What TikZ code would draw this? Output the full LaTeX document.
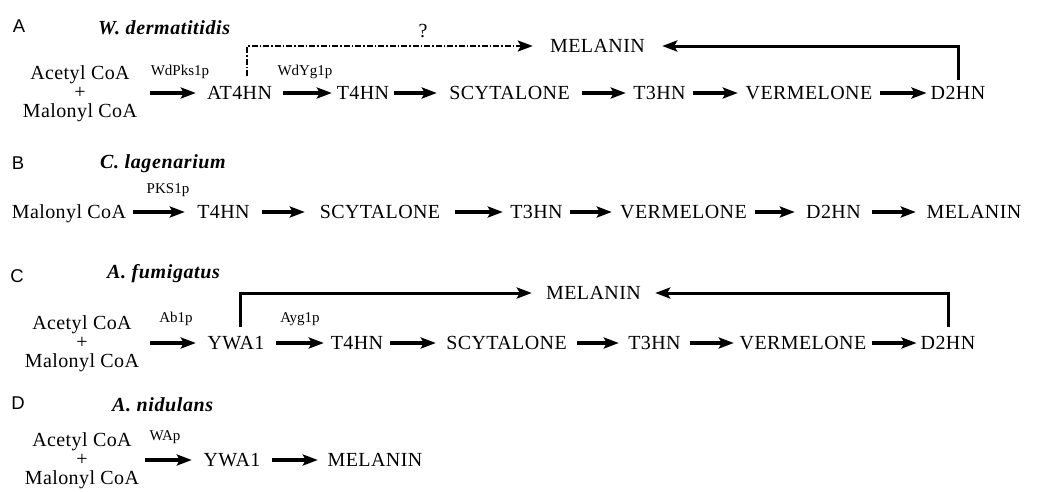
\documentclass[tikz,border=0pt]{standalone}
\usepackage{fontspec}
\setmainfont{Liberation Serif}
\newfontfamily\lettersf{Liberation Sans}
\usetikzlibrary{arrows.meta}
\begin{document}
\begin{tikzpicture}[x=1pt,y=-1pt,
  chem/.style={inner sep=0pt, font=\addfontfeatures{LetterSpace=2}\fontsize{20}{22}\selectfont, text height=13.5pt, text depth=0pt},
  src/.style={inner sep=0pt, align=center, font=\addfontfeatures{LetterSpace=2}\fontsize{20}{19}\selectfont},
  enz/.style={inner sep=0pt, font=\fontsize{15}{16}\selectfont},
  panel/.style={inner sep=0pt, font=\lettersf\fontsize{18.5}{20}\selectfont},
  species/.style={inner sep=0pt, anchor=west, font=\addfontfeatures{LetterSpace=3}\fontsize{20}{22}\selectfont\bfseries\itshape},
  rxn/.style={line width=3.3pt, -{Stealth[length=15pt,width=11pt,inset=3pt]}, shorten <=4pt, shorten >=4pt},
  fb/.style={line width=3pt, -{Stealth[length=15pt,width=11pt,inset=3pt]}},
  fbdash/.style={line width=2.4pt, -{Stealth[length=15pt,width=11pt,inset=3pt]}, dash pattern=on 6pt off 2pt on 1.5pt off 2pt},
]
\fill[white] (0,0) rectangle (1037,491);
\useasboundingbox (0,0) rectangle (1037,491);

% ---------------- A ----------------
\node[panel] (pA) at (19,26) {A};
\node[species] (spA) at (98,28) {W. dermatitidis};
\node[chem] (qA) at (423,31) {?};
\node[src, minimum width=132] (sA) at (80,94) {Acetyl CoA\\+\\Malonyl CoA};
\node[enz] (eA1) at (180,72) {WdPks1p};
\node[enz] (eA2) at (305,72) {WdYg1p};
\node[chem, minimum width=79] (at4hnA) at (239.5,93) {AT4HN};
\node[chem, minimum width=54] (t4hnA) at (363,93) {T4HN};
\node[chem, minimum width=137] (scyA) at (509.5,93) {SCYTALONE};
\node[chem, minimum width=59] (t3hnA) at (659.5,93) {T3HN};
\node[chem, minimum width=134] (verA) at (809,93) {VERMELONE};
\node[chem, minimum width=50] (d2hnA) at (958,93) {D2HN};
\node[chem, minimum width=121] (melA) at (597.5,46) {MELANIN};
\coordinate (dA) at (247,76);

\draw[rxn] (sA.east |- at4hnA.west) -- (at4hnA.west);
\draw[rxn] (at4hnA.east) -- (t4hnA.west);
\draw[rxn] (t4hnA.east) -- (scyA.west);
\draw[rxn] (scyA.east) -- (t3hnA.west);
\draw[rxn] (t3hnA.east) -- (verA.west);
\draw[rxn] (verA.east) -- (d2hnA.west);
\draw[fb, shorten <=6pt, shorten >=4pt] (d2hnA.north) |- (melA.east);
\draw[fbdash, shorten >=4pt] (dA) |- (melA.west);

% ---------------- B ----------------
\node[panel] (pB) at (18,163) {B};
\node[species] (spB) at (100,164) {C. lagenarium};
\node[enz] (eB1) at (168,190) {PKS1p};
\node[chem, minimum width=110] (sB) at (69,212) {Malonyl CoA};
\node[chem, minimum width=69] (t4hnB) at (223.5,212) {T4HN};
\node[chem, minimum width=142] (scyB) at (380,212) {SCYTALONE};
\node[chem, minimum width=59] (t3hnB) at (536.5,212) {T3HN};
\node[chem, minimum width=135] (verB) at (683.5,212) {VERMELONE};
\node[chem, minimum width=69] (d2hnB) at (833.5,212) {D2HN};
\node[chem, minimum width=108] (melB) at (974,212) {MELANIN};

\draw[rxn, shorten <=7pt] (sB.east) -- (t4hnB.west);
\draw[rxn] (t4hnB.east) -- (scyB.west);
\draw[rxn] (scyB.east) -- (t3hnB.west);
\draw[rxn] (t3hnB.east) -- (verB.west);
\draw[rxn] (verB.east) -- (d2hnB.west);
\draw[rxn] (d2hnB.east) -- (melB.west);

% ---------------- C ----------------
\node[panel] (pC) at (17,276) {C};
\node[species] (spC) at (107,274) {A. fumigatus};
\node[src, minimum width=128] (sC) at (82,344) {Acetyl CoA\\+\\Malonyl CoA};
\node[enz] (eC1) at (176,319) {Ab1p};
\node[enz] (eC2) at (300,319) {Ayg1p};
\node[chem, minimum width=72] (ywaC) at (236,343) {YWA1};
\node[chem, minimum width=58] (t4hnC) at (357,343) {T4HN};
\node[chem, minimum width=133] (scyC) at (506.5,343) {SCYTALONE};
\node[chem, minimum width=63] (t3hnC) at (654.5,343) {T3HN};
\node[chem, minimum width=130] (verC) at (803,343) {VERMELONE};
\node[chem, minimum width=53] (d2hnC) at (948,343) {D2HN};
\node[chem, minimum width=115] (melC) at (593.5,293) {MELANIN};

\draw[rxn] (sC.east |- ywaC.west) -- (ywaC.west);
\draw[rxn] (ywaC.east) -- (t4hnC.west);
\draw[rxn] (t4hnC.east) -- (scyC.west);
\draw[rxn] (scyC.east) -- (t3hnC.west);
\draw[rxn] (t3hnC.east) -- (verC.west);
\draw[rxn] (verC.east) -- (d2hnC.west);
\draw[fb, shorten <=9pt, shorten >=4pt] ([xshift=4pt]ywaC.north) |- (melC.west);
\draw[fb, shorten <=9pt, shorten >=4pt] (d2hnC.north) |- (melC.east);

% ---------------- D ----------------
\node[panel] (pD) at (18,403) {D};
\node[species] (spD) at (112,405) {A. nidulans};
\node[src, minimum width=118] (sD) at (82,461) {Acetyl CoA\\+\\Malonyl CoA};
\node[enz] (eD1) at (165,437) {WAp};
\node[chem, minimum width=72] (ywaD) at (232,460) {YWA1};
\node[chem, minimum width=106] (melD) at (375,460) {MELANIN};

\draw[rxn] (sD.east |- ywaD.west) -- (ywaD.west);
\draw[rxn] (ywaD.east) -- (melD.west);
\end{tikzpicture}
\end{document}
